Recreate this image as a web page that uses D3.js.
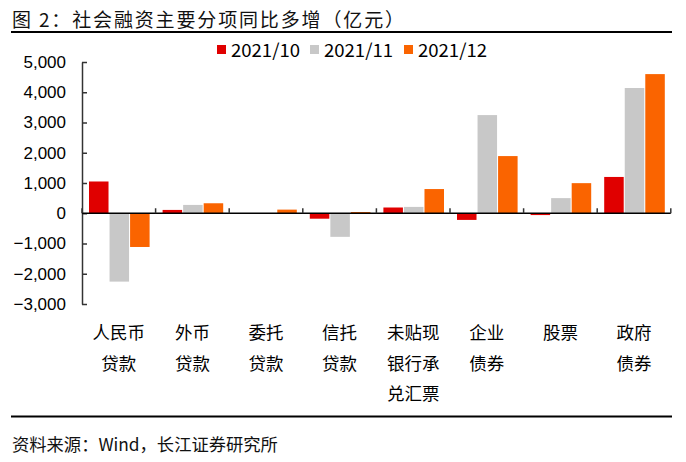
<!DOCTYPE html>
<html><head><meta charset="utf-8">
<script src="https://cdn.jsdelivr.net/npm/d3@7"></script>
<style>body{margin:0;background:#fff}svg{display:block}</style>
</head><body>
<script>
const categories = [["人民币","贷款"],["外币","贷款"],["委托","贷款"],["信托","贷款"],["未贴现","银行承","兑汇票"],["企业","债券"],["股票"],["政府","债券"]];
const seriesNames = ["2021/10","2021/11","2021/12"];
const oct = [1050, 110, 0, -180, 190, -220, -60, 1200];
const nov = [-2260, 275, 0, -780, 210, 3245, 500, 4140];
const dec = [-1115, 330, 120, 40, 800, 1890, 995, 4600];
const yTicks = [5000,4000,3000,2000,1000,0,-1000,-2000,-3000];
const colors = ["#E00000","#C8C8C8","#FA6400"];
const series = [oct, nov, dec];

const W=686,H=462;
const svg=d3.select("body").append("svg").attr("width",W).attr("height",H);
const cjk="'Noto Sans CJK SC','Liberation Sans',sans-serif";
const lat="'Liberation Sans',Arial,sans-serif";

svg.append("text").attr("x",12).attr("y",27).attr("font-family",cjk).attr("font-size",19)
  .attr("textLength",392).attr("lengthAdjust","spacing").attr("fill","#111").text("图 2：社会融资主要分项同比多增（亿元）");
svg.append("line").attr("x1",11).attr("x2",672).attr("y1",32).attr("y2",32).attr("stroke","#000").attr("stroke-width",2);
svg.append("line").attr("x1",11).attr("x2",672).attr("y1",416.5).attr("y2",416.5).attr("stroke","#000").attr("stroke-width",2);
svg.append("text").attr("x",12).attr("y",451).attr("font-family",cjk).attr("font-size",17.3)
  .attr("fill","#111").text("资料来源：Wind，长江证券研究所");

const x=d3.scaleBand().domain(d3.range(categories.length)).range([82,670.8]).paddingInner(0).paddingOuter(0);
const y=d3.scaleLinear().domain([-3000,5000]).range([304,62]);
const inner=d3.scaleBand().domain(d3.range(3)).range([7,x.bandwidth()-6]).paddingInner(0.05);

// bars
series.forEach((vals,si)=>{
  svg.append("g").selectAll("rect").data(vals).join("rect")
    .attr("x",(d,i)=>x(i)+inner(si))
    .attr("width",inner.bandwidth())
    .attr("y",d=>y(Math.max(0,d)))
    .attr("height",d=>Math.abs(y(d)-y(0)))
    .attr("fill",colors[si]);
});

// y axis
const ya=svg.append("g").attr("transform","translate(82,0)")
  .call(d3.axisLeft(y).tickValues(yTicks).tickSizeInner(-5).tickSizeOuter(0).tickPadding(16).tickFormat(d3.format(",")));
ya.select(".domain").attr("stroke","#333").attr("stroke-width",1.5);
ya.selectAll(".tick line").attr("stroke","#333").attr("stroke-width",1.5);
ya.selectAll("text").attr("font-family",lat).attr("font-size",17).attr("fill","#000");

// x axis line and ticks
svg.append("line").attr("x1",82).attr("x2",670.8).attr("y1",y(0)).attr("y2",y(0)).attr("stroke","#000").attr("stroke-width",1.5);
svg.append("g").selectAll("line").data(d3.range(categories.length+1)).join("line")
  .attr("x1",i=>i<categories.length?x(i):670.8).attr("x2",i=>i<categories.length?x(i):670.8)
  .attr("y1",y(0)).attr("y2",y(0)-5).attr("stroke","#333").attr("stroke-width",1.5);

// category labels
const cl=svg.append("g");
categories.forEach((lines,i)=>{
  lines.forEach((t,j)=>{
    cl.append("text").attr("x",x(i)+x.bandwidth()/2).attr("y",339+j*30.5).attr("text-anchor","middle")
      .attr("font-family",cjk).attr("font-size",17.5).attr("fill","#000").text(t);
  });
});

// legend
const lg=svg.append("g");
const lx=[217,310,404];
seriesNames.forEach((n,i)=>{
  lg.append("rect").attr("x",lx[i]).attr("y",45).attr("width",9).attr("height",9).attr("fill",colors[i]);
  lg.append("text").attr("x",lx[i]+14).attr("y",57).attr("font-family",cjk).attr("font-size",18)
    .attr("textLength",69).attr("lengthAdjust","spacingAndGlyphs").attr("fill","#000").text(n);
});
</script>
</body></html>
